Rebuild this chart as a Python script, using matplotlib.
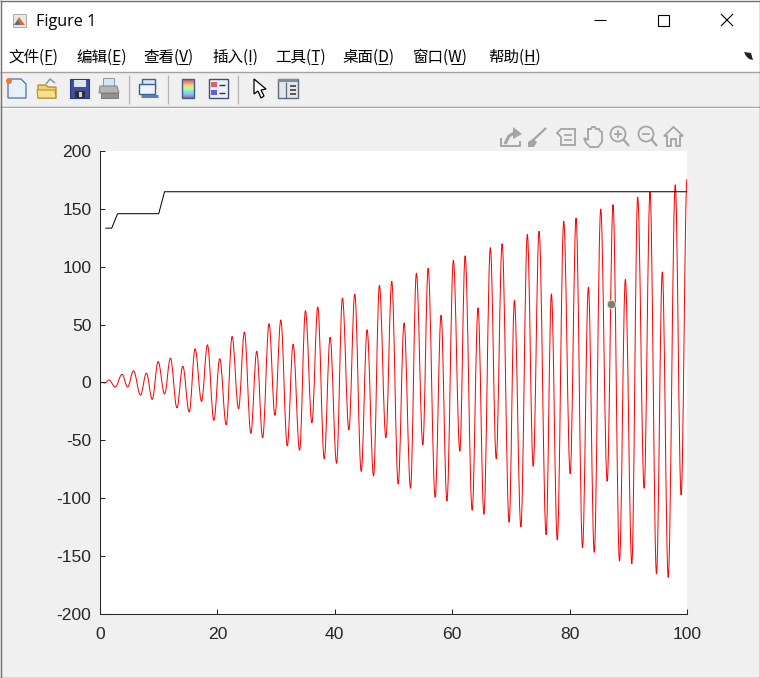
import matplotlib
matplotlib.use("Agg")
import matplotlib.pyplot as plt
import numpy as np
from matplotlib.path import Path
from matplotlib.patches import PathPatch, Rectangle, Polygon, Circle

plt.rcParams['font.family'] = ['Noto Sans CJK SC', 'DejaVu Sans']
plt.rcParams['axes.unicode_minus'] = False

# red curve: turning points (max / min in turn)
turn_x = [0, 0.9, 1.5, 2.6, 3.75, 4.7, 5.7, 6.9, 7.9, 8.9, 9.9, 11.0, 12.0, 13.1, 14.1, 15.2,
          16.2, 17.3, 18.3, 19.4, 20.4, 21.5, 22.5, 23.6, 24.6, 25.7, 26.7, 27.7, 28.8, 29.8,
          30.8, 31.9, 32.9, 34.0, 35.0, 36.1, 37.1, 38.2, 39.2, 40.3, 41.3, 42.4, 43.4, 44.5,
          45.5, 46.6, 47.6, 48.7, 49.7, 50.8, 51.8, 52.9, 53.9, 55.0, 55.9, 57.1, 58.1, 59.1,
          60.2, 61.3, 62.2, 63.4, 64.4, 65.4, 66.5, 67.5, 68.5, 69.7, 70.6, 71.7, 72.8, 73.8,
          74.8, 76.0, 76.9, 77.9, 79.0, 80.1, 81.1, 82.2, 83.2, 84.2, 85.3, 86.4, 87.4, 88.5,
          89.5, 90.6, 91.6, 92.7, 93.7, 94.8, 95.8, 96.8, 98.0, 99.0, 100]
turn_y = [0, -0.5, 2.2, -4, 7, -4, 10, -11, 8, -14.7, 18, -10, 21, -22, 14, -25.6,
          29, -16.4, 32.5, -32.8, 20.5, -36.6, 39.7, -22.7, 43.5, -44, 27, -47.8, 50.7, -28.5,
          54, -55, 33, -58.7, 62, -35, 65.3, -66, 39, -70, 73, -41, 76.5, -77,
          45.5, -81, 83.8, -47.8, 87.5, -88, 51.3, -91.6, 94.5, -54, 98.7, -99.4, 58, -102.5,
          105.5, -59.6, 109.5, -110.6, 64.5, -114, 116.6, -66, 120, -121, 70.8, -125, 128, -72.6,
          130.8, -131.7, 76.6, -136.3, 139.4, -79, 142.2, -143, 82.4, -147, 150, -85.5, 153.8, -154.6,
          89, -157, 160.4, -91.6, 164.7, -165.6, 95.6, -168.7, 171, -97.4, 176]

# black step line
step_x = [1, 2, 3, 10, 11, 100]
step_y = [133.5, 133.5, 146, 146, 165, 165]

# data tip dot
tip_x = [87]
tip_y = [68]

x_ticks = [0, 20, 40, 60, 80, 100]
y_ticks = [-200, -150, -100, -50, 0, 50, 100, 150, 200]
menu_items = ['文件(F)', '编辑(E)', '查看(V)', '插入(I)', '工具(T)', '桌面(D)', '窗口(W)', '帮助(H)']

W, H = 760, 678
BG = '#f0f0f0'
GREY = '#a3a3a3'

fig = plt.figure(figsize=(W / 100, H / 100), dpi=100, facecolor=BG)

# main axes, MATLAB style
ax = fig.add_axes([100 / W, 1 - 613.5 / H, 587 / W, 462.2 / H], facecolor='white', zorder=2)
ax.set_xlim(0, 100)
ax.set_ylim(-200, 200)
ax.set_xticks(x_ticks)
ax.set_yticks(y_ticks)
for side in ['top', 'right']:
    ax.spines[side].set_visible(False)
for side in ['left', 'bottom']:
    ax.spines[side].set_linewidth(0.75)
    ax.spines[side].set_color('#262626')
ax.tick_params(direction='in', length=3.4, width=0.75, color='#262626', labelcolor='#262626',
               labelsize=12.6, labelfontfamily='Liberation Sans')
ax.tick_params(axis='x', pad=9.5)
ax.tick_params(axis='y', pad=6.2)

# half waves between turning points as bezier pieces with flat ends
verts = [(turn_x[0], turn_y[0])]
codes = [Path.MOVETO]
for i in range(len(turn_x) - 1):
    dx = turn_x[i + 1] - turn_x[i]
    verts.append((turn_x[i] + 0.3642 * dx, turn_y[i]))
    verts.append((turn_x[i + 1] - 0.3642 * dx, turn_y[i + 1]))
    verts.append((turn_x[i + 1], turn_y[i + 1]))
    codes += [Path.CURVE4, Path.CURVE4, Path.CURVE4]

ax.plot(step_x, step_y, color='black', lw=0.72)
ax.add_patch(PathPatch(Path(verts, codes), fill=False, edgecolor='#ff0000', lw=0.72, joinstyle='round'))
ax.plot(tip_x, tip_y, 'o', ms=6, mfc='#7a7f78', mec='#e8e6c0', mew=0.6, clip_on=False, zorder=6)

# window chrome on a pixel grid
ov = fig.add_axes([0, 0, 1, 1], facecolor='none', zorder=5)
ov.set_xlim(0, W)
ov.set_ylim(H, 0)
ov.axis('off')


def rect(x, y, w, h, fc, ec='none', lw=0.0, z=1):
    ov.add_patch(Rectangle((x, y), w, h, facecolor=fc, edgecolor=ec, linewidth=lw, zorder=z))


def seg(xs, ys, color='black', lw=0.75, z=3):
    ov.plot(xs, ys, color=color, lw=lw, zorder=z, solid_capstyle='butt')


def poly(pts, fc, ec='none', lw=0.7, z=3):
    ov.add_patch(Polygon(pts, closed=True, facecolor=fc, edgecolor=ec, linewidth=lw, zorder=z))


rect(0, 0, W, 71.5, 'white')
rect(0, 72, W, 34.5, BG)
seg([0, W], [71.5, 71.5], GREY, 1.0)
seg([0, W], [106.5, 106.5], GREY, 1.0)
seg([0, W], [107.5, 107.5], 'white', 0.7)
seg([0, W], [0.5, 0.5], '#707070', 1.0)
seg([0.5, 0.5], [0, H], '#707070', 1.0)
seg([W - 0.5, W - 0.5], [0, H], '#707070', 1.0)
seg([0, W], [H - 0.5, H - 0.5], '#707070', 1.0)

# title bar
rect(13, 14, 13, 13, '#e8e8e8', '#9aa0a8', 0.6)
poly([(14, 25), (19, 17), (25, 25)], '#e0701c')
poly([(14, 25), (18, 20), (20, 25)], '#3a6fb0')
ov.text(36, 22, 'Figure 1', fontsize=11.6, family='Open Sans', va='center', ha='left', color='black')
seg([594, 606], [19.5, 19.5], 'black', 0.8)
rect(657.5, 14.5, 11, 11, 'none', 'black', 0.8)
seg([721, 733], [14, 26], 'black', 0.8)
seg([721, 733], [26, 14], 'black', 0.8)

# menu bar
menu_left = [8.5, 76, 143, 212, 275, 342, 413, 488]
under_x = [(45, 52), (112, 119), (178, 188), (249, 251), (311, 318), (378, 388), (451, 463), (524, 535)]
for name, mx, ux in zip(menu_items, menu_left, under_x):
    ov.text(mx, 57, name, fontsize=11.2, va='center', ha='left', color='black')
    seg(ux, [64, 64], 'black', 0.7)
poly([(744, 52), (751, 53), (753, 60), (749, 59), (746, 56)], '#222222')

# toolbar separators
for sx in [128.5, 167.5, 237.5]:
    seg([sx, sx], [75, 104], '#b5b5b5', 0.9)

# new file
poly([(8, 79), (21, 79), (26, 84), (26, 98), (8, 98)], '#e8f1fa', '#4d6fa8', 0.9)
ov.add_patch(Circle((9, 81), 3, facecolor='#f07a30', edgecolor='none', zorder=4))
# open folder
poly([(38, 85), (46, 85), (48, 87), (56, 87), (56, 98), (38, 98)], '#f0d070', '#b08a20', 0.9)
poly([(37, 90), (55, 90), (56, 98), (38, 98)], '#f7e08a', '#b08a20', 0.7)
seg([46, 50, 55], [84, 79, 83], '#8898a8', 1.1)
# floppy
rect(70, 79, 19, 19, '#3f4f9a', '#2c3a80', 0.8)
rect(73.5, 79.5, 12, 7.5, '#e0e6f0')
rect(74.5, 91, 10, 7, '#303030')
rect(79, 92, 3, 5, '#d0d0d0')
# printer
rect(103, 78, 11, 8, '#d8e4f0', '#8a98a8', 0.7)
poly([(100, 86), (117, 86), (119, 93), (99, 93)], '#b4b4b4', '#808080', 0.7)
rect(101, 93, 17, 5, '#909090', '#707070', 0.6)
# linked plots
rect(142, 79, 13, 9, '#dce6f2', '#3f5f96', 1.0)
rect(138.5, 83.5, 16, 10, '#eef3f9', '#3f5f96', 1.0)
seg([141, 158], [96, 96], '#5a7fae', 2.2)
# colorbar
grad = np.linspace(0, 1, 20).reshape(-1, 1)
ov.imshow(grad, extent=(181.5, 193.5, 98, 79), cmap='turbo_r', alpha=0.55, aspect='auto', zorder=3)
rect(181.5, 79, 12, 19, 'none', '#4a5a86', 1.0, z=4)
ov.set_xlim(0, W)
ov.set_ylim(H, 0)
# legend
rect(208.5, 79, 19, 19, '#eef2f8', '#3f4f80', 1.0)
rect(211, 82, 6, 5, '#e06060')
rect(211, 90, 6, 5, '#6060e0')
seg([219, 225], [84.5, 84.5], '#303050', 1.0)
seg([219, 225], [92.5, 92.5], '#303050', 1.0)
# pointer
poly([(254, 79), (254, 94), (258, 91), (261, 98), (264, 96), (261, 90), (266, 89)], 'white', 'black', 0.9)
# property panel
rect(278, 79, 20, 19, '#e6e6e6', '#5a6a80', 1.0)
rect(278, 79, 20, 3, '#7a8ca6')
seg([285.5, 285.5], [82, 98], '#5a6a80', 0.9)
for ly in [86, 90, 94]:
    seg([290, 296], [ly, ly], '#303030', 1.1)

# axes toolbar (grey glyphs)
IC = '#a4a4a4'
seg([501, 501, 520, 520], [138, 146, 146, 141], IC, 1.4)
seg([505, 509, 514], [144, 136, 133], IC, 2.2)
poly([(513, 127), (522, 134), (513, 139)], IC)
seg([529, 546], [144, 128], IC, 1.6)
poly([(528, 147), (528, 142), (533, 139), (537, 142), (534, 147)], IC)
poly([(557, 133), (561, 129), (575, 129), (575, 145), (561, 145), (561, 137)], 'none', IC, 1.3)
seg([564, 572], [134.5, 134.5], IC, 1.2)
seg([564, 572], [139.5, 139.5], IC, 1.2)
# hand
poly([(584, 138), (588, 140), (588, 129), (591, 129), (592, 127), (595, 127), (596, 129), (599, 129),
      (600, 131), (602, 132), (602, 142), (598, 147), (590, 147), (586, 143)], 'none', IC, 1.3)
# zoom in, zoom out
for cx, sign in [(618, 1), (646, 0)]:
    ov.add_patch(Circle((cx, 134), 7.5, facecolor='none', edgecolor=IC, linewidth=1.3, zorder=3))
    seg([cx + 5.5, cx + 11], [139.5, 146], IC, 1.6)
    seg([cx - 4, cx + 4], [134, 134], IC, 1.2)
    if sign:
        seg([cx, cx], [130, 138], IC, 1.2)
# home
poly([(664, 136), (673.5, 127), (683, 136), (680, 136), (680, 146), (676, 146), (676, 139),
      (671, 139), (671, 146), (667, 146), (667, 136)], 'none', IC, 1.3)

fig.savefig('out.png', dpi=100, facecolor=BG)
